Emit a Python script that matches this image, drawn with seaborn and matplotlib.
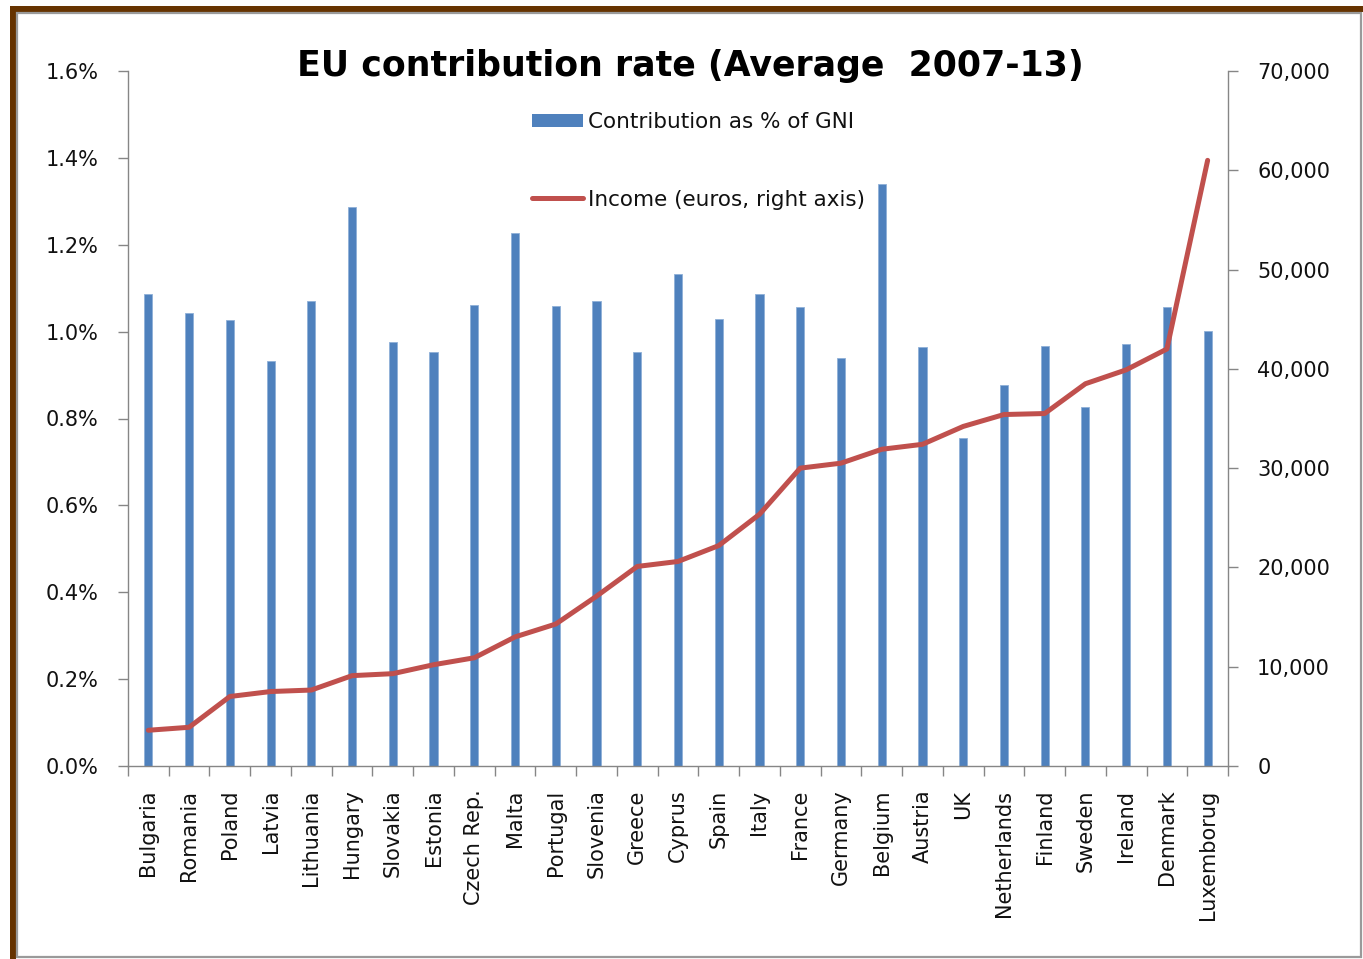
import numpy as np
import pandas as pd
import matplotlib
matplotlib.use("Agg")
import matplotlib.pyplot as plt
import seaborn as sns
from matplotlib.patches import Rectangle, Patch
from matplotlib.lines import Line2D
from matplotlib.ticker import FuncFormatter, MultipleLocator, FixedLocator

# --- data -------------------------------------------------------------
countries = ["Bulgaria", "Romania", "Poland", "Latvia", "Lithuania", "Hungary",
             "Slovakia", "Estonia", "Czech Rep.", "Malta", "Portugal", "Slovenia",
             "Greece", "Cyprus", "Spain", "Italy", "France", "Germany", "Belgium",
             "Austria", "UK", "Netherlands", "Finland", "Sweden", "Ireland",
             "Denmark", "Luxemborug"]

contribution_pct = [1.086, 1.044, 1.027, 0.932, 1.071, 1.286, 0.977, 0.953, 1.062,
                    1.228, 1.059, 1.071, 0.953, 1.133, 1.030, 1.086, 1.057, 0.939,
                    1.340, 0.965, 0.755, 0.876, 0.968, 0.826, 0.971, 1.057, 1.001]

income_eur = [3600, 3900, 7000, 7500, 7650, 9100, 9300, 10200, 10900, 13000,
              14300, 17100, 20100, 20600, 22200, 25350, 30000, 30500, 31900,
              32400, 34200, 35400, 35500, 38500, 39900, 42000, 61000]

title = "EU contribution rate (Average  2007-13)"
bar_label = "Contribution as % of GNI"
line_label = "Income (euros, right axis)"

df = pd.DataFrame({"country": countries,
                   "contribution": contribution_pct,
                   "income": income_eur,
                   "pos": np.arange(len(countries))})

# --- style --------------------------------------------------------------
sns.set_style("white")
plt.rcParams["font.family"] = ["DejaVu Sans"]

BLUE = "#4F81BD"
BLUE_EDGE = "#8FB0D8"
RED = "#C0504D"
AXIS_GREY = "#868686"
BROWN = "#663300"
TEXT = "#111111"

W, H = 1363, 959
fig = plt.figure(figsize=(W / 100, H / 100), dpi=100)
fig.patch.set_facecolor("white")


def fx(px):
    return px / W


def fy(py):
    return 1 - py / H


# outer frame: brown band on top and left, thin grey border
fig.patches.append(Rectangle((fx(10), fy(12)), fx(1363) - fx(10), fy(6) - fy(12),
                             transform=fig.transFigure, facecolor=BROWN,
                             edgecolor="none", zorder=-10))
fig.patches.append(Rectangle((fx(10), fy(959)), fx(16) - fx(10), fy(6) - fy(959),
                             transform=fig.transFigure, facecolor=BROWN,
                             edgecolor="none", zorder=-10))
fig.patches.append(Rectangle((fx(17), fy(957)), fx(1361) - fx(17), fy(13) - fy(957),
                             transform=fig.transFigure, facecolor="white",
                             edgecolor="#9a9a9a", linewidth=1.6, zorder=-9))

left, right, top, bottom = 128, 1228, 71, 766
ax = fig.add_axes([fx(left), fy(bottom), fx(right) - fx(left), fy(top) - fy(bottom)])
ax.set_facecolor("none")

sns.barplot(data=df, x="pos", y="contribution", color=BLUE, saturation=1,
            width=0.2, native_scale=True, ax=ax, zorder=2,
            edgecolor=BLUE_EDGE, linewidth=0.6)

ax2 = ax.twinx()
sns.lineplot(data=df, x="pos", y="income", color=RED, linewidth=3.6,
             sort=False, ax=ax2, solid_capstyle="round", solid_joinstyle="round",
             zorder=3)

n = len(countries)
ax.set_xlim(-0.5, n - 0.5)
ax.set_ylim(0, 1.6)
ax2.set_ylim(0, 70000)

# left axis
ax.yaxis.set_major_locator(MultipleLocator(0.2))
ax.yaxis.set_major_formatter(FuncFormatter(lambda v, p: f"{v:.1f}%"))
# right axis
ax2.yaxis.set_major_locator(MultipleLocator(10000))
ax2.yaxis.set_major_formatter(FuncFormatter(lambda v, p: f"{v:,.0f}"))

# categories: labels at centres, tick marks at the boundaries
ax.xaxis.set_major_locator(FixedLocator(np.arange(n)))
ax.set_xticklabels(countries, rotation=90, fontsize=15, color=TEXT)
ax.xaxis.set_minor_locator(FixedLocator(np.arange(n + 1) - 0.5))
ax.tick_params(axis="x", which="major", length=0, pad=17)
ax.tick_params(axis="x", which="minor", length=7, width=1, color=AXIS_GREY,
               direction="out", bottom=True)
ax.tick_params(axis="y", which="major", length=7, width=1, color=AXIS_GREY,
               direction="out", left=True, labelsize=15, labelcolor=TEXT, pad=14)
ax2.tick_params(axis="y", which="major", length=7, width=1, color=AXIS_GREY,
                direction="out", right=True, labelsize=15, labelcolor=TEXT, pad=14)

for a in (ax, ax2):
    a.set_xlabel("")
    a.set_ylabel("")
    a.grid(False)
    for side in ("left", "right", "bottom"):
        a.spines[side].set_color(AXIS_GREY)
        a.spines[side].set_linewidth(1)
    a.spines["top"].set_visible(False)
ax.spines["right"].set_visible(False)
ax2.spines["left"].set_visible(False)
ax2.spines["bottom"].set_visible(False)

# title
fig.text(fx(690), fy(66), title, ha="center", va="center",
         fontsize=25, fontweight="bold", color="black")

# legend
handles = [Patch(facecolor=BLUE, edgecolor="none"),
           Line2D([0], [0], color=RED, linewidth=3.6, solid_capstyle="round")]
leg = fig.legend(handles, [bar_label, line_label], loc="upper left",
                 bbox_to_anchor=(fx(532), fy(112)), frameon=False, fontsize=15.5,
                 handlelength=2.35, handleheight=0.6, handletextpad=0.25,
                 labelspacing=2.68, borderpad=0, borderaxespad=0)
for t in leg.get_texts():
    t.set_color(TEXT)

fig.savefig("out.png", dpi=100)
